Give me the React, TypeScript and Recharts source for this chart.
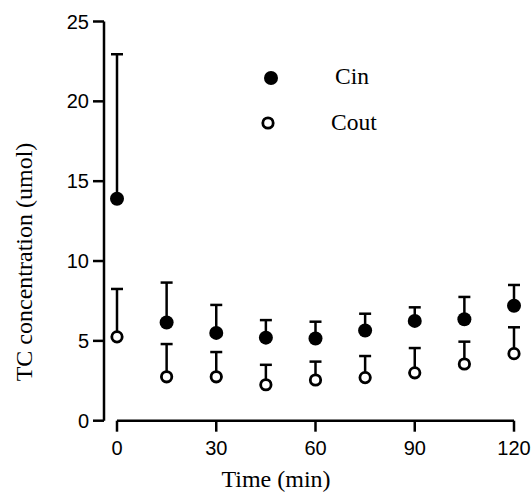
import React from 'react';
import { ScatterChart, Scatter, XAxis, YAxis, ErrorBar, Legend, ReferenceLine } from 'recharts';

// time points (min)
const times = [0, 15, 30, 45, 60, 75, 90, 105, 120];
// mean TC concentration
const cinMean = [13.9, 6.15, 5.5, 5.2, 5.15, 5.65, 6.25, 6.35, 7.2];
const coutMean = [5.25, 2.75, 2.75, 2.25, 2.55, 2.7, 3.0, 3.55, 4.2];
// upper error (SD), only drawn upward
const cinSd = [9.05, 2.5, 1.75, 1.1, 1.05, 1.05, 0.85, 1.4, 1.3];
const coutSd = [3.0, 2.05, 1.55, 1.25, 1.15, 1.35, 1.55, 1.4, 1.65];

const xTicks = [0, 30, 60, 90, 120];
const yTicks = [0, 5, 10, 15, 20, 25];

const cinData = times.map((t, i) => ({ t, v: cinMean[i], err: [0, cinSd[i]] }));
const coutData = times.map((t, i) => ({ t, v: coutMean[i], err: [0, coutSd[i]] }));

const serif = '"Liberation Serif", "Times New Roman", serif';
const sans = '"Liberation Sans", Arial, sans-serif';

const FilledDot = (props: any) => <circle cx={props.cx} cy={props.cy} r={7} fill="#000" />;
const OpenDot = (props: any) => (
  <circle cx={props.cx} cy={props.cy} r={5.2} fill="#fff" stroke="#000" strokeWidth={2.8} />
);

const renderLegend = (props: any) => {
  const names = (props.payload || []).map((p: any) => p.value);
  return (
    <svg width={150} height={90}>
      <circle cx={16} cy={23} r={7} fill="#000" />
      <text x={80} y={29} fontFamily={serif} fontSize={23.5} fill="#000">
        {names[0] || 'Cin'}
      </text>
      <circle cx={13} cy={68} r={5.2} fill="#fff" stroke="#000" strokeWidth={2.8} />
      <text x={76} y={75} fontFamily={serif} fontSize={23.5} fill="#000">
        {names[1] || 'Cout'}
      </text>
    </svg>
  );
};

const YTitle = () => (
  <text
    x={32}
    y={262}
    transform="rotate(-90, 32, 262)"
    textAnchor="middle"
    fontFamily={serif}
    fontSize={24}
    fill="#000"
  >
    TC concentration (umol)
  </text>
);

const XTitle = () => (
  <text x={276} y={487} textAnchor="middle" fontFamily={serif} fontSize={24} fill="#000">
    Time (min)
  </text>
);

export default function App() {
  return (
    <div style={{ position: 'absolute', left: 0, top: 0, background: '#fff' }}>
      <ScatterChart width={531} height={501} margin={{ top: 21.5, right: 17, bottom: 0, left: 0 }}>
        <XAxis
          dataKey="t"
          type="number"
          domain={[0, 120]}
          ticks={xTicks}
          padding={{ left: 13, right: 0 }}
          axisLine={false}
          tickLine={{ stroke: '#000', strokeWidth: 2.5 }}
          tickSize={11}
          tickMargin={9}
          height={80.3}
          tick={{ fill: '#000', fontSize: 20, fontFamily: sans }}
          label={{ content: () => <XTitle /> }}
        />
        <YAxis
          dataKey="v"
          type="number"
          domain={[0, 25]}
          ticks={yTicks}
          width={104}
          axisLine={{ stroke: '#000', strokeWidth: 2.5 }}
          tickLine={{ stroke: '#000', strokeWidth: 2.5 }}
          tickSize={11}
          tickMargin={4}
          tick={{ fill: '#000', fontSize: 20, fontFamily: sans }}
          label={{ content: () => <YTitle /> }}
        />
        <ReferenceLine
          segment={[{ x: 0, y: 0 }, { x: 120, y: 0 }]}
          stroke="#000"
          strokeWidth={2.5}
          ifOverflow="visible"
        />
        <Legend
          content={renderLegend}
          layout="vertical"
          align="center"
          verticalAlign="middle"
          wrapperStyle={{ left: 255, top: 55, width: 150, height: 90 }}
        />
        <Scatter name="Cin" data={cinData} shape={FilledDot} isAnimationActive={false}>
          <ErrorBar dataKey="err" direction="y" width={6} stroke="#000" strokeWidth={2.5} isAnimationActive={false} />
        </Scatter>
        <Scatter name="Cout" data={coutData} shape={OpenDot} isAnimationActive={false}>
          <ErrorBar dataKey="err" direction="y" width={6} stroke="#000" strokeWidth={2.5} isAnimationActive={false} />
        </Scatter>
      </ScatterChart>
    </div>
  );
}
